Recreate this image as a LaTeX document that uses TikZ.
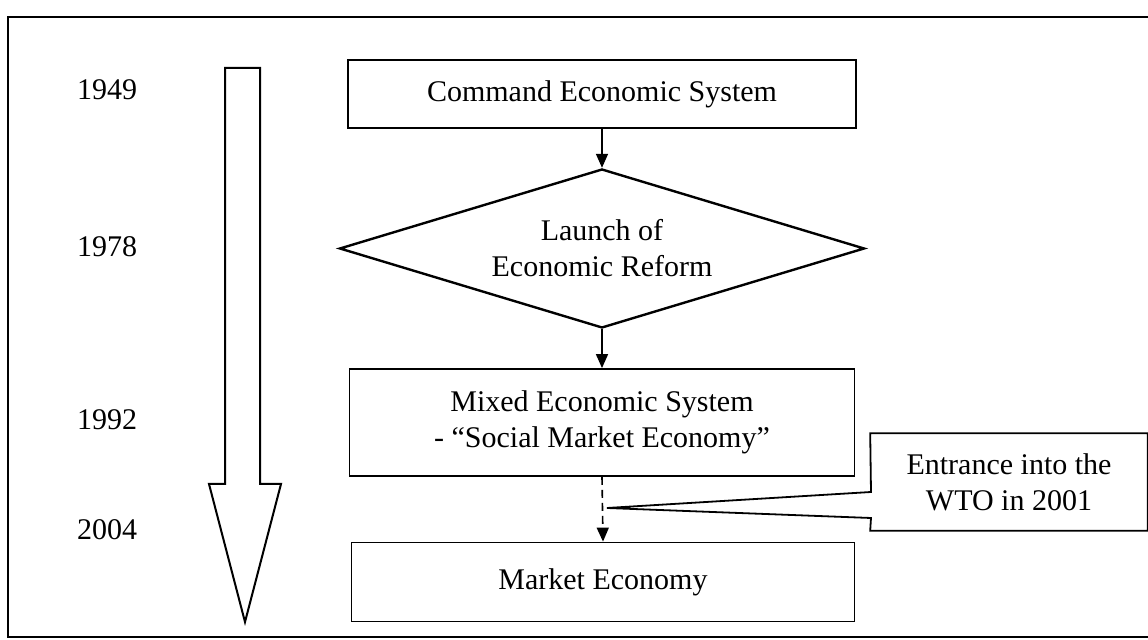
\documentclass[tikz,border=0pt]{standalone}
\usepackage{fontspec}
\setmainfont{Liberation Serif}
\usepackage{tikz}
\usetikzlibrary{arrows.meta, shapes.geometric}
\newcommand{\diagfont}{\fontsize{15}{18}\selectfont}

\begin{document}
\begin{tikzpicture}[
    >={Triangle[width=6pt,length=7pt]}, x=0.5pt, y=-0.5pt,
    box/.style={rectangle, draw, line width=0.9pt, align=center, font=\diagfont, inner sep=2pt},
    decision/.style={diamond, draw, aspect=3.3, line width=1.2pt, align=center, font=\diagfont, inner sep=0pt},
    year/.style={font=\diagfont},
    line width=0.8pt
]
\useasboundingbox (0,0) rectangle (1148,640);
\draw[line width=1.4pt] (8,17) rectangle (1160,637);

% timeline arrow
\draw[line width=1pt] (225,68) -- (260,68) -- (260,484) -- (281,484) -- (245,622) -- (209,484) -- (225,484) -- cycle;

\node[year] (y1949) at (107,90) {1949};
\node[year] (y1978) at (107,247) {1978};
\node[year] (y1992) at (107,420) {1992};
\node[year] (y2004) at (107,530) {2004};

\node[box, minimum width=254pt, minimum height=34pt] (command) at (602,94) {Command Economic System};
\node[decision, minimum width=262.5pt, minimum height=79.5pt] (reform) at (602,248.5) {Launch of\\Economic Reform};
\node[box, minimum width=252.5pt, minimum height=53.5pt] (mixed) at (602,422.5) {Mixed Economic System\\- “Social Market Economy”};
\node[box, minimum width=251.5pt, minimum height=39.5pt] (market) at (603,582) {Market Economy};
\node[font=\diagfont, align=center, minimum width=138pt, minimum height=48pt] (wto) at (1009,482) {Entrance into the\\WTO in 2001};

\coordinate (tip) at (607,508);
\coordinate (wtoup) at (871,492);
\coordinate (wtolow) at (871,518);

\draw[->] (command) -- (reform);
\draw[->] (reform) -- (mixed);
\draw[->, dash pattern=on 4pt off 2.5pt] (mixed.south) -- (market.north);
\draw[line width=0.9pt] (wto.north west) -- (wto.north east) -- (wto.south east) -- (wto.south west) -- (wtolow) -- (tip) -- (wtoup) -- cycle;

\end{tikzpicture}
\end{document}
